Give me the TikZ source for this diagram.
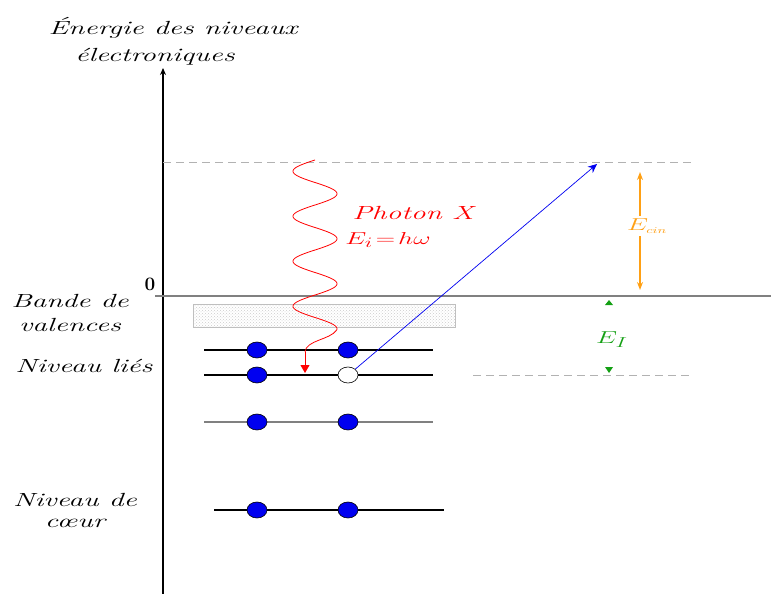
\documentclass[tikz,border=0pt]{standalone}
\usepackage{graphicx}
\usetikzlibrary{arrows.meta,patterns,shapes.geometric}
\definecolor{eorange}{RGB}{255,160,20}
\definecolor{egreen}{RGB}{20,160,20}
\definecolor{eblue}{RGB}{0,0,240}
\newcommand\wtxt[1]{\scalebox{1.55}[1]{#1}}
\tikzset{
  lbl/.style={font=\itshape\fontsize{19}{21}\selectfont, inner sep=0pt},
  level/.style={line width=1.2pt, black},
  glevel/.style={line width=1.2pt, gray},
  electron/.style={ellipse, minimum width=20pt, minimum height=16pt, inner sep=0pt, fill=eblue, draw=black, line width=0.6pt},
  hole/.style={ellipse, minimum width=20pt, minimum height=16pt, inner sep=0pt, fill=white, draw=black, line width=0.6pt},
  guide/.style={gray!60, dash pattern=on 8pt off 5pt, line width=0.8pt}
}
\begin{document}
\begin{tikzpicture}[x=1pt,y=-1pt]
\useasboundingbox (0,0) rectangle (771,594);
% axis
\coordinate (axb) at (163,594);
\coordinate (axt) at (163,68);
\draw[line width=1.6pt, -{Stealth[length=7pt,width=6pt]}] (axb) -- (axt);
\node[lbl] (t1) at (173,28) {\wtxt{Énergie des niveaux}};
\node[lbl] (t2) at (155,57) {\wtxt{électroniques}};
% zero line
\coordinate (z0) at (155,296);
\coordinate (z1) at (771,296);
\draw[gray, line width=1.5pt] (z0) -- (z1);
\node[font=\bfseries\fontsize{19}{21}\selectfont, inner sep=0pt] (zero) at (150,284) {0};
% dashed guides
\coordinate (g0) at (163,162);
\coordinate (g1) at (692,162);
\draw[guide] (g0) -- (g1);
\coordinate (h0) at (473,375);
\coordinate (h1) at (693,375);
\draw[guide] (h0) -- (h1);
% valence band
\node[fill=gray!6, pattern=crosshatch dots, pattern color=gray!40, minimum width=262pt, minimum height=23pt, inner sep=0pt] (band) at (324,315.5) {};
\node[draw=gray!50, line width=0.8pt, minimum width=262pt, minimum height=23pt, inner sep=0pt] (bandb) at (324,315.5) {};
% levels
\coordinate (l1a) at (204,350); \coordinate (l1b) at (433,350);
\coordinate (l2a) at (204,375); \coordinate (l2b) at (433,375);
\coordinate (l3a) at (204,422); \coordinate (l3b) at (433,422);
\coordinate (l4a) at (214,510); \coordinate (l4b) at (444,510);
\draw[level] (l1a) -- (l1b);
\draw[level] (l2a) -- (l2b);
\draw[glevel] (l3a) -- (l3b);
\draw[level] (l4a) -- (l4b);
\node[electron] (e1) at (257,350) {};
\node[electron] (e2) at (348,350) {};
\node[electron] (e3) at (257,375) {};
\node[hole] (hole) at (348,375) {};
\node[electron] (e5) at (257,422) {};
\node[electron] (e6) at (348,422) {};
\node[electron] (e7) at (257,510) {};
\node[electron] (e8) at (348,510) {};
% photon
\draw[red, line width=0.8pt] plot[domain=160:330, samples=240, smooth] ({315-22*sin((\x-160)*8)}, {\x})
  .. controls (330,340) and (306,340) .. (305,352) coordinate (pk);
\coordinate (ptip) at (305,373);
\draw[red, line width=0.8pt, -{Triangle[length=8pt,width=9pt]}] (pk) -- (ptip);
\node[lbl, text=red] (ph1) at (413,213) {\wtxt{Photon X}};
\node[lbl, text=red] (ph2) at (388,240) {\wtxt{$E_i\!=\!h\omega$}};
% photoelectron
\coordinate (eout) at (597,164);
\draw[eblue, line width=0.7pt, -{Stealth[length=9pt,width=8pt]}] (hole.north east) -- (eout);
% E_cin
\node[lbl, text=eorange, fill=white, inner sep=3pt] (ecin) at (647,226) {\wtxt{$E_{\scriptscriptstyle cin}$}};
\coordinate (c0) at (640,172);
\coordinate (c1) at (640,290);
\draw[eorange, line width=1.3pt, -{Stealth[length=8pt,width=6pt]}] (ecin.north -| c0) -- (c0);
\draw[eorange, line width=1.3pt, -{Stealth[length=8pt,width=6pt]}] (ecin.south -| c1) -- (c1);
% E_I
\node[lbl, text=egreen] (ei) at (612,340) {\wtxt{$E_I$}};
\fill[egreen] (605,305) -- (613,305) -- (609,300) -- cycle;
\fill[egreen] (605,367) -- (613,367) -- (609,373) -- cycle;
% left labels
\node[lbl] (bv1) at (70,301) {\wtxt{Bande de}};
\node[lbl] (bv2) at (70,325) {\wtxt{valences}};
\node[lbl] (nl) at (84,366) {\wtxt{Niveau liés}};
\node[lbl] (nc1) at (75,500) {\wtxt{Niveau de}};
\node[lbl] (nc2) at (75,523) {\wtxt{cœur}};
\end{tikzpicture}
\end{document}
